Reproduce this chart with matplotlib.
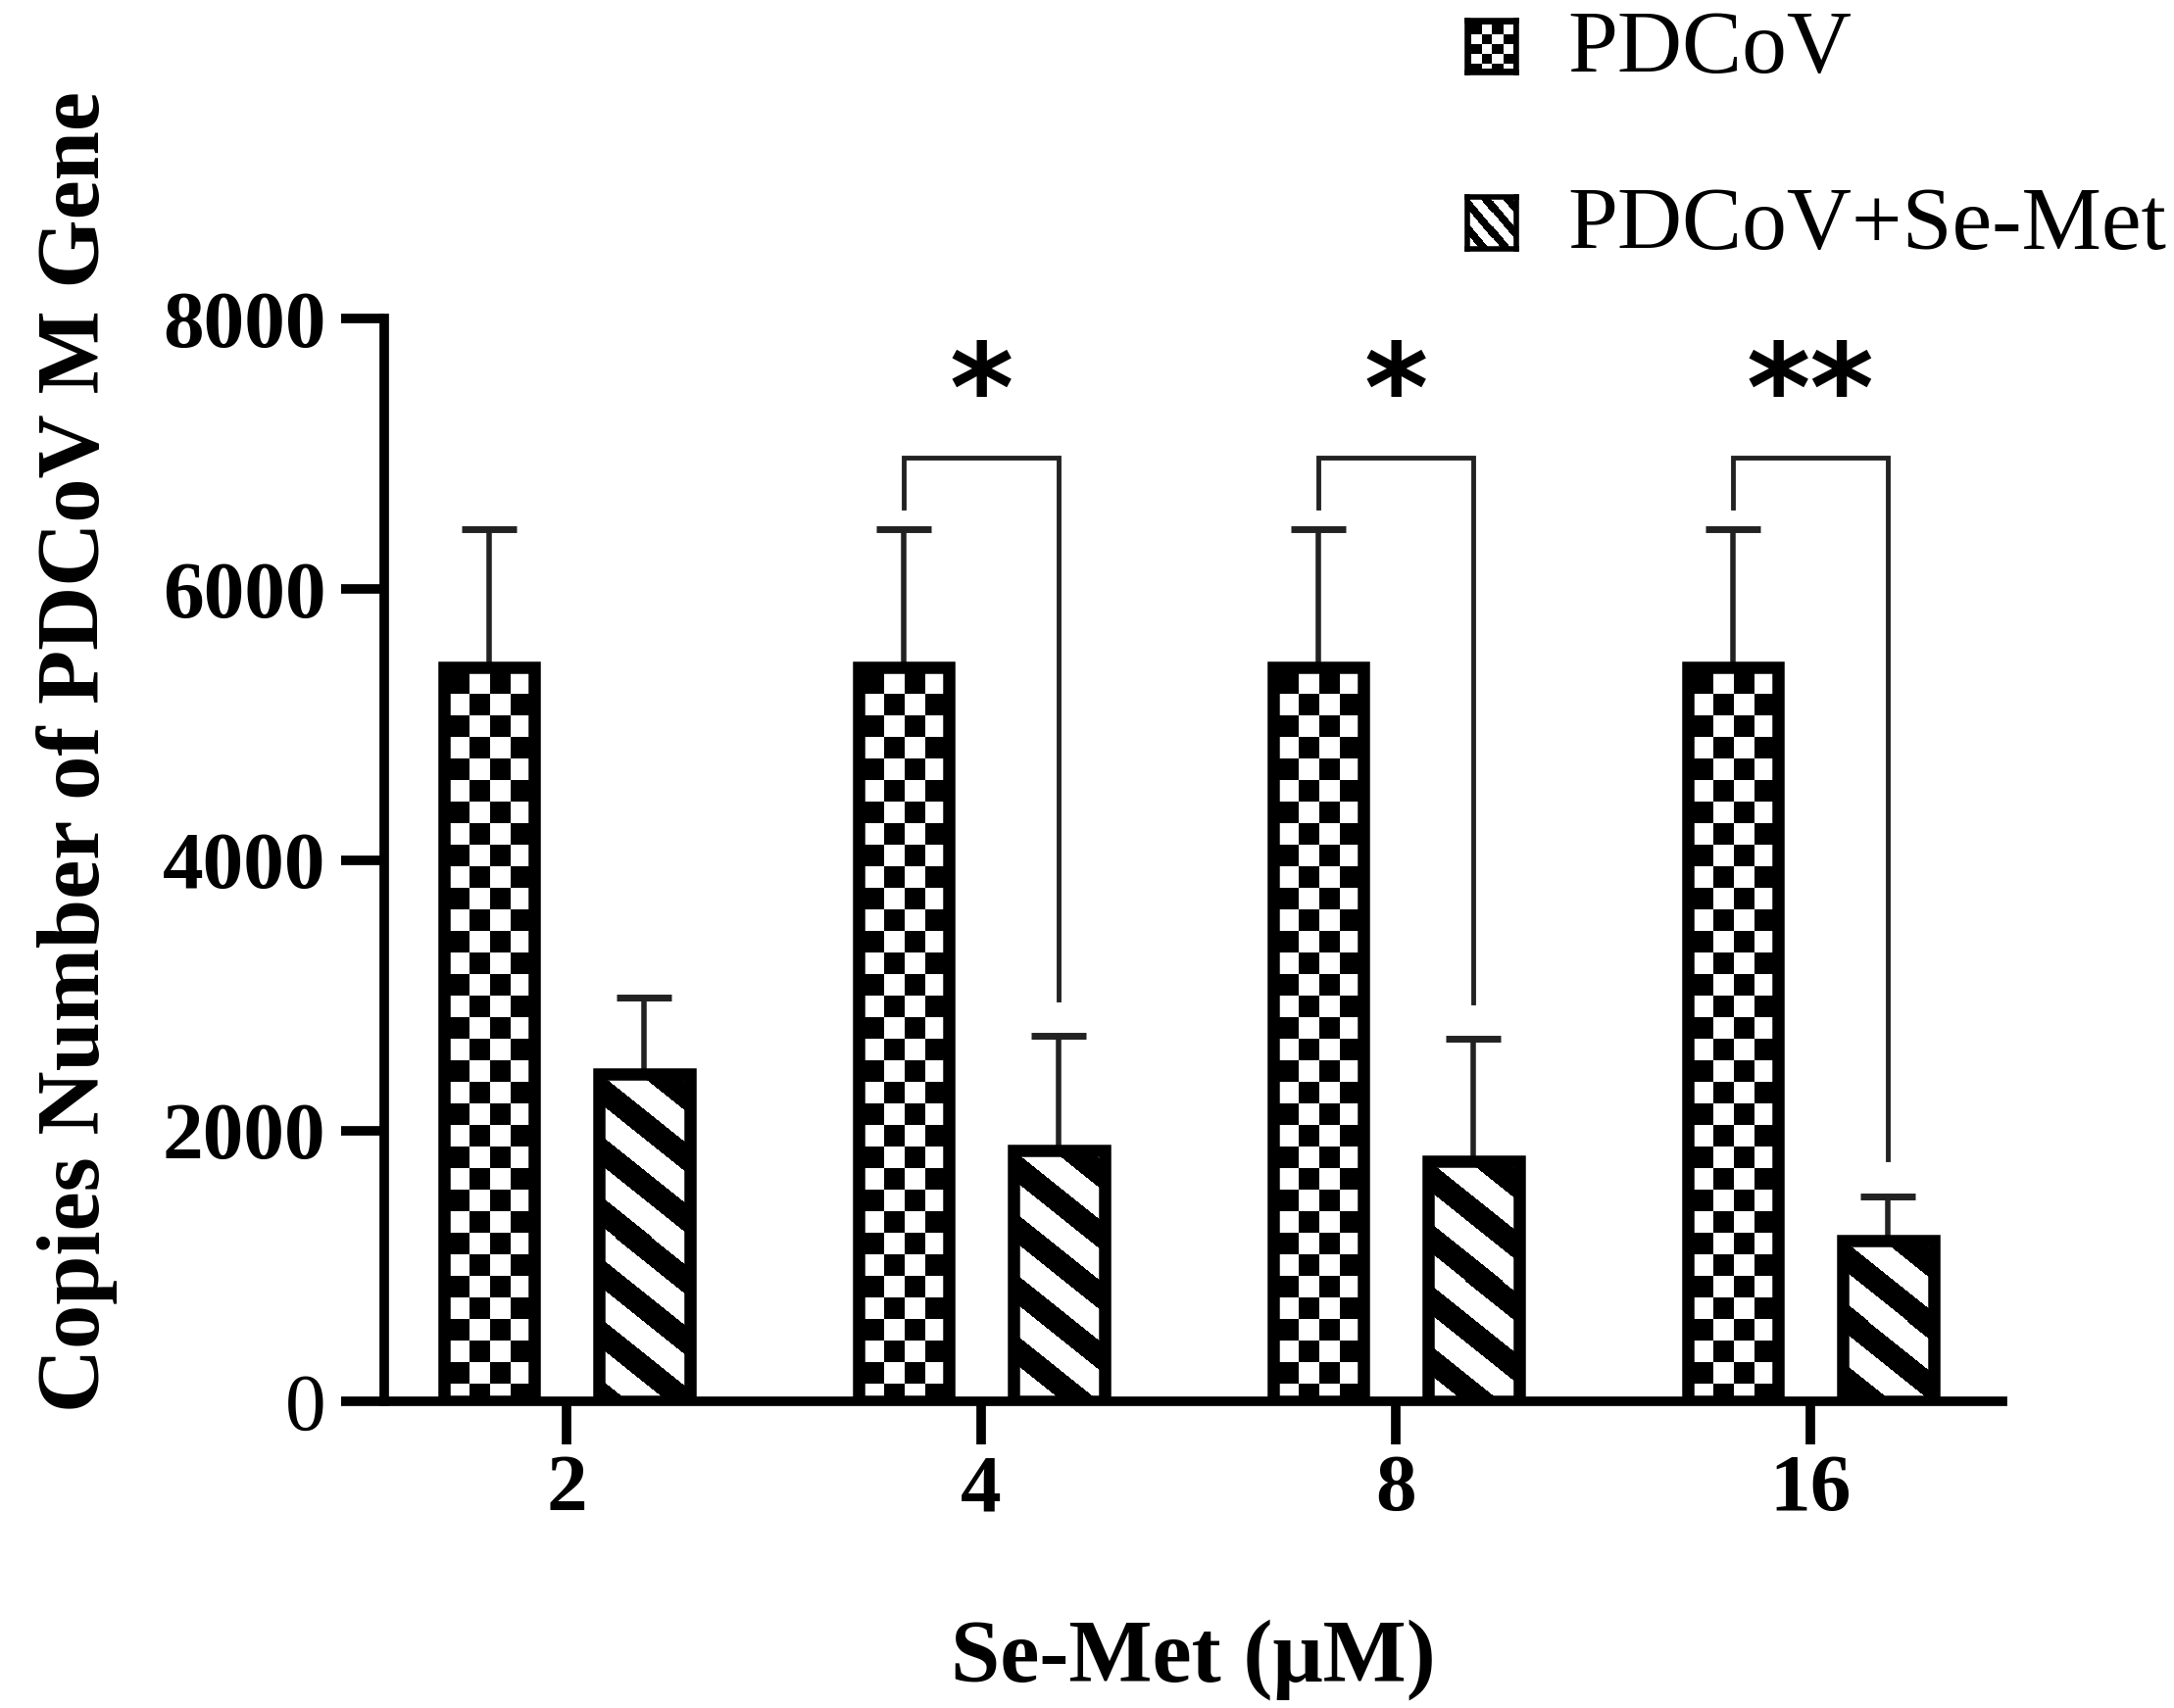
import numpy as np
import matplotlib.pyplot as plt

# values
doses = ['2', '4', '8', '16']
pdcov_mean = [5420, 5420, 5420, 5420]
pdcov_sd = [1020, 1020, 1020, 1020]
semet_mean = [2420, 1850, 1775, 1190]
semet_sd = [565, 850, 905, 325]
sig_groups = [1, 2, 3]
sig_marks = ['*', '*', '**']
bracket_y = 6970
star_y = 7420
y_ticks = [0, 2000, 4000, 6000, 8000]

plt.rcParams['font.family'] = 'Liberation Serif'
plt.rcParams['font.weight'] = 'bold'

W, H = 2218, 1743
fig = plt.figure(figsize=(W / 100, H / 100), dpi=100)
ax = fig.add_axes([392 / W, 1 - 1430 / H, (2043 - 392) / W, (1430 - 325) / H])

x = np.arange(len(doses))
bw = 0.219
off = 0.187
ax.set_xlim(-0.44, 3.463)
ax.set_ylim(0, 8000)


def pattern(h, w, kind, cell_h=22, ncols=4, margin=5, period=62, black=30, slope=0.8):
    rr, cc = np.mgrid[0:h, 0:w]
    if kind == 'checker':
        inner_w = max(w - 2 * margin, 1)
        cw = inner_w / ncols
        arr = (((rr - margin) // cell_h + ((cc - margin) // cw)) % 2).astype(float)
        arr[:, :margin] = 0
        arr[:, w - margin:] = 0
        arr[:margin, :] = 0
        arr[h - margin:, :] = 0
    else:
        arr = (((rr - slope * cc) % period) >= black).astype(float)
    return arr


def fill_bars(bars, kind):
    for rect in bars:
        xa, ya = rect.get_x(), rect.get_y()
        xb, yb = xa + rect.get_width(), ya + rect.get_height()
        (px0, py0), (px1, py1) = ax.transData.transform([(xa, ya), (xb, yb)])
        w = int(round(px1 - px0))
        h = int(round(py1 - py0))
        ax.imshow(pattern(h, w, kind), extent=(xa, xb, ya, yb), cmap='gray',
                  vmin=0, vmax=1, interpolation='nearest', aspect='auto', zorder=2.5)


bars1 = ax.bar(x - off, pdcov_mean, bw, facecolor='none', edgecolor='black',
               linewidth=9, zorder=3)
bars2 = ax.bar(x + off, semet_mean, bw, facecolor='none', edgecolor='black',
               linewidth=9, zorder=3)
fill_bars(bars1, 'checker')
fill_bars(bars2, 'stripes')

ax.errorbar(x - off, pdcov_mean, yerr=[np.zeros(len(x)), pdcov_sd], fmt='none',
            ecolor='#222222', elinewidth=4, capsize=20, capthick=5, zorder=2)
ax.errorbar(x + off, semet_mean, yerr=[np.zeros(len(x)), semet_sd], fmt='none',
            ecolor='#222222', elinewidth=4, capsize=20, capthick=5, zorder=2)

# significance brackets
for i, mark in zip(sig_groups, sig_marks):
    left_end = pdcov_mean[i] + pdcov_sd[i] + 160
    right_end = semet_mean[i] + semet_sd[i] + 270
    ax.plot([x[i] - off, x[i] - off, x[i] + off, x[i] + off],
            [left_end, bracket_y, bracket_y, right_end],
            color='#222222', lw=3.5, solid_joinstyle='miter', zorder=2)
    ax.text(x[i], star_y, mark, ha='center', va='center', fontsize=90,
            family='DejaVu Sans', fontweight='bold')

ax.set_xlim(-0.44, 3.463)
ax.set_ylim(0, 8000)
ax.set_xticks(x)
ax.set_xticklabels(doses)
ax.set_yticks(y_ticks)
ax.set_yticklabels([str(t) for t in y_ticks])
ax.get_yticklabels()[0].set_fontweight('normal')
ax.tick_params(axis='both', length=32, width=7, labelsize=60, color='black')
ax.tick_params(axis='x', pad=7)
ax.tick_params(axis='y', pad=11)
for side in ['top', 'right']:
    ax.spines[side].set_visible(False)
for side in ['left', 'bottom']:
    ax.spines[side].set_linewidth(7)

ax.set_xlabel('Se-Met (μM)', fontsize=65, fontweight='bold')
ax.xaxis.set_label_coords(0.5, -0.2588)
ax.xaxis.label.set_va('baseline')
ax.set_ylabel('Copies Number of PDCoV M Gene', fontsize=65, fontweight='bold')
ax.yaxis.set_label_coords(-0.1648, 0.600)

# legend drawn by hand so the swatches carry the same fills
legend_items = [('PDCoV', 'checker', 74), ('PDCoV+Se-Met', 'stripes', 254)]
for label, kind, base in legend_items:
    sax = fig.add_axes([1497 / W, 1 - base / H, 50 / W, 53 / H])
    if kind == 'checker':
        arr = pattern(53, 50, kind, cell_h=10, ncols=4, margin=4)
    else:
        arr = pattern(53, 50, kind, period=26, black=12, slope=1.2)
    sax.imshow(arr, cmap='gray', vmin=0, vmax=1, interpolation='nearest', aspect='auto')
    sax.set_xticks([])
    sax.set_yticks([])
    for s in sax.spines.values():
        s.set_linewidth(4)
    fig.text(1599 / W, 1 - base / H, label, fontsize=66, fontweight='normal',
             va='baseline', ha='left')

fig.savefig('out.png', dpi=100)
